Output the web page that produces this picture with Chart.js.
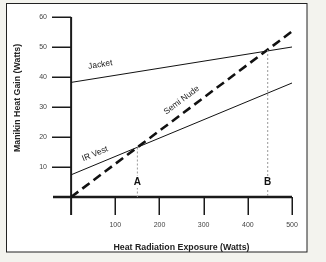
<!DOCTYPE html>
<html>
<head>
<meta charset="utf-8">
<script src="https://cdn.jsdelivr.net/npm/chart.js@4.4.1/dist/chart.umd.min.js"></script>
<style>
    html, body { margin: 0; padding: 0; background: #f3f3ee; }
    #wrap { width: 326px; height: 262px; }
</style>
</head>
<body>
<div id="wrap"><canvas id="chart" width="326" height="262"></canvas></div>
<script>
// values
const xEnds = [0, 500];
const jacket = [38.2, 50];
const irVest = [7.4, 38];
const semiNude = [0, 55.2];
const dropX = [150, 445];
const dropTop = [16.5, 49];
const markLabels = ['A', 'B'];
const xTicks = [100, 200, 300, 400, 500];
const yTicks = [10, 20, 30, 40, 50, 60];

const toPoints = (ys) => xEnds.map((x, i) => ({ x, y: ys[i] }));

/**
 * Draws the frame, axes with their ticks, the in-plot labels and the axis titles.
 */
const decorations = {
    id: 'decorations',
    beforeDraw(chart) {
        const ctx = chart.ctx;
        ctx.save();
        ctx.fillStyle = '#f3f3ee';
        ctx.fillRect(0, 0, chart.width, chart.height);
        ctx.fillStyle = '#ffffff';
        ctx.fillRect(6, 3, 301, 249);
        ctx.strokeStyle = '#222';
        ctx.lineWidth = 1;
        ctx.strokeRect(6.5, 3.5, 300.5, 248.5);
        ctx.restore();
    },
    beforeDatasetsDraw(chart) {
        const { ctx, chartArea, scales: { x, y } } = chart;
        const x0 = x.getPixelForValue(0);
        const y0 = y.getPixelForValue(0);
        ctx.save();
        ctx.strokeStyle = '#1a1a1a';

        ctx.lineWidth = 1.5;
        for (let v of yTicks) {
            const py = Math.round(y.getPixelForValue(v)) + 0.25;
            ctx.beginPath();
            ctx.moveTo(chartArea.left - 1, py);
            ctx.lineTo(x0, py);
            ctx.stroke();
        }
        for (let v of xTicks) {
            const px = Math.round(x.getPixelForValue(v)) + 0.25;
            ctx.beginPath();
            ctx.moveTo(px, y0);
            ctx.lineTo(px, chartArea.bottom);
            ctx.stroke();
        }

        ctx.lineWidth = 2;
        ctx.beginPath();
        ctx.moveTo(x0, y.getPixelForValue(60));
        ctx.lineTo(x0, chartArea.bottom);
        ctx.stroke();

        ctx.lineWidth = 2.5;
        ctx.beginPath();
        ctx.moveTo(chartArea.left, y0);
        ctx.lineTo(x.getPixelForValue(500), y0);
        ctx.stroke();
        ctx.restore();
    },
    afterDatasetsDraw(chart) {
        const { ctx, scales: { x, y } } = chart;

        const labelOnLine = (text, ys, atX, lift) => {
            const ax = x.getPixelForValue(xEnds[0]);
            const ay = y.getPixelForValue(ys[0]);
            const bx = x.getPixelForValue(xEnds[1]);
            const by = y.getPixelForValue(ys[1]);
            const angle = Math.atan2(by - ay, bx - ax);
            const px = x.getPixelForValue(atX);
            const py = ay + (by - ay) * (px - ax) / (bx - ax) - lift;
            ctx.save();
            ctx.translate(px, py);
            ctx.rotate(angle);
            ctx.fillStyle = '#222';
            ctx.font = '8.5px "Liberation Sans", Arial, sans-serif';
            ctx.textAlign = 'center';
            ctx.textBaseline = 'middle';
            ctx.fillText(text, 0, 0);
            ctx.restore();
        };

        labelOnLine('Jacket', jacket, 66, 13);
        labelOnLine('IR Vest', irVest, 54, 11);
        labelOnLine('Semi Nude', semiNude, 250, 14);

        ctx.save();
        ctx.font = 'bold 10px "Liberation Sans", Arial, sans-serif';
        ctx.textAlign = 'center';
        ctx.textBaseline = 'middle';
        markLabels.forEach((m, i) => {
            const px = x.getPixelForValue(dropX[i]);
            const py = y.getPixelForValue(5);
            ctx.fillStyle = '#ffffff';
            ctx.fillRect(px - 5, py - 6, 10, 12);
            ctx.fillStyle = '#111';
            ctx.fillText(m, px, py);
        });

        ctx.font = 'bold 8.8px "Liberation Sans", Arial, sans-serif';
        ctx.fillStyle = '#222';
        ctx.fillText('Heat Radiation Exposure (Watts)', 181.5, 248);
        ctx.translate(18, 98);
        ctx.rotate(-Math.PI / 2);
        ctx.fillText('Manikin Heat Gain (Watts)', 0, 0);
        ctx.restore();
    }
};

const tickFont = { family: '"Liberation Sans", Arial, sans-serif', size: 7 };

new Chart(document.getElementById('chart').getContext('2d'), {
    type: 'line',
    data: {
        datasets: [
            ...dropX.map((dx, i) => ({
                data: [{ x: dx, y: dropTop[i] }, { x: dx, y: 0 }],
                borderColor: '#999',
                borderWidth: 1,
                borderDash: [2, 2]
            })),
            { label: 'Jacket', data: toPoints(jacket), borderColor: '#111', borderWidth: 1 },
            { label: 'IR Vest', data: toPoints(irVest), borderColor: '#111', borderWidth: 1 },
            {
                label: 'Semi Nude',
                data: toPoints(semiNude),
                borderColor: '#111',
                borderWidth: 2.6,
                borderDash: [9, 5]
            }
        ]
    },
    options: {
        responsive: false,
        animation: false,
        events: [],
        layout: { padding: { top: 17, right: 34, left: 0, bottom: 0 } },
        elements: { point: { radius: 0 }, line: { tension: 0 } },
        plugins: { legend: { display: false }, tooltip: { enabled: false } },
        scales: {
            x: {
                type: 'linear',
                min: -41,
                max: 500,
                grid: { display: false, drawTicks: false },
                border: { display: false },
                afterBuildTicks: (scale) => { scale.ticks = xTicks.map(value => ({ value })); },
                afterFit: (scale) => { scale.height = 47; },
                ticks: { font: tickFont, color: '#444', padding: 6, maxRotation: 0 }
            },
            y: {
                min: -6,
                max: 60,
                grid: { display: false, drawTicks: false },
                border: { display: false },
                afterBuildTicks: (scale) => { scale.ticks = yTicks.map(value => ({ value })); },
                afterFit: (scale) => { scale.width = 53; },
                ticks: { font: tickFont, color: '#444', padding: 6 }
            }
        }
    },
    plugins: [decorations]
});
</script>
</body>
</html>
